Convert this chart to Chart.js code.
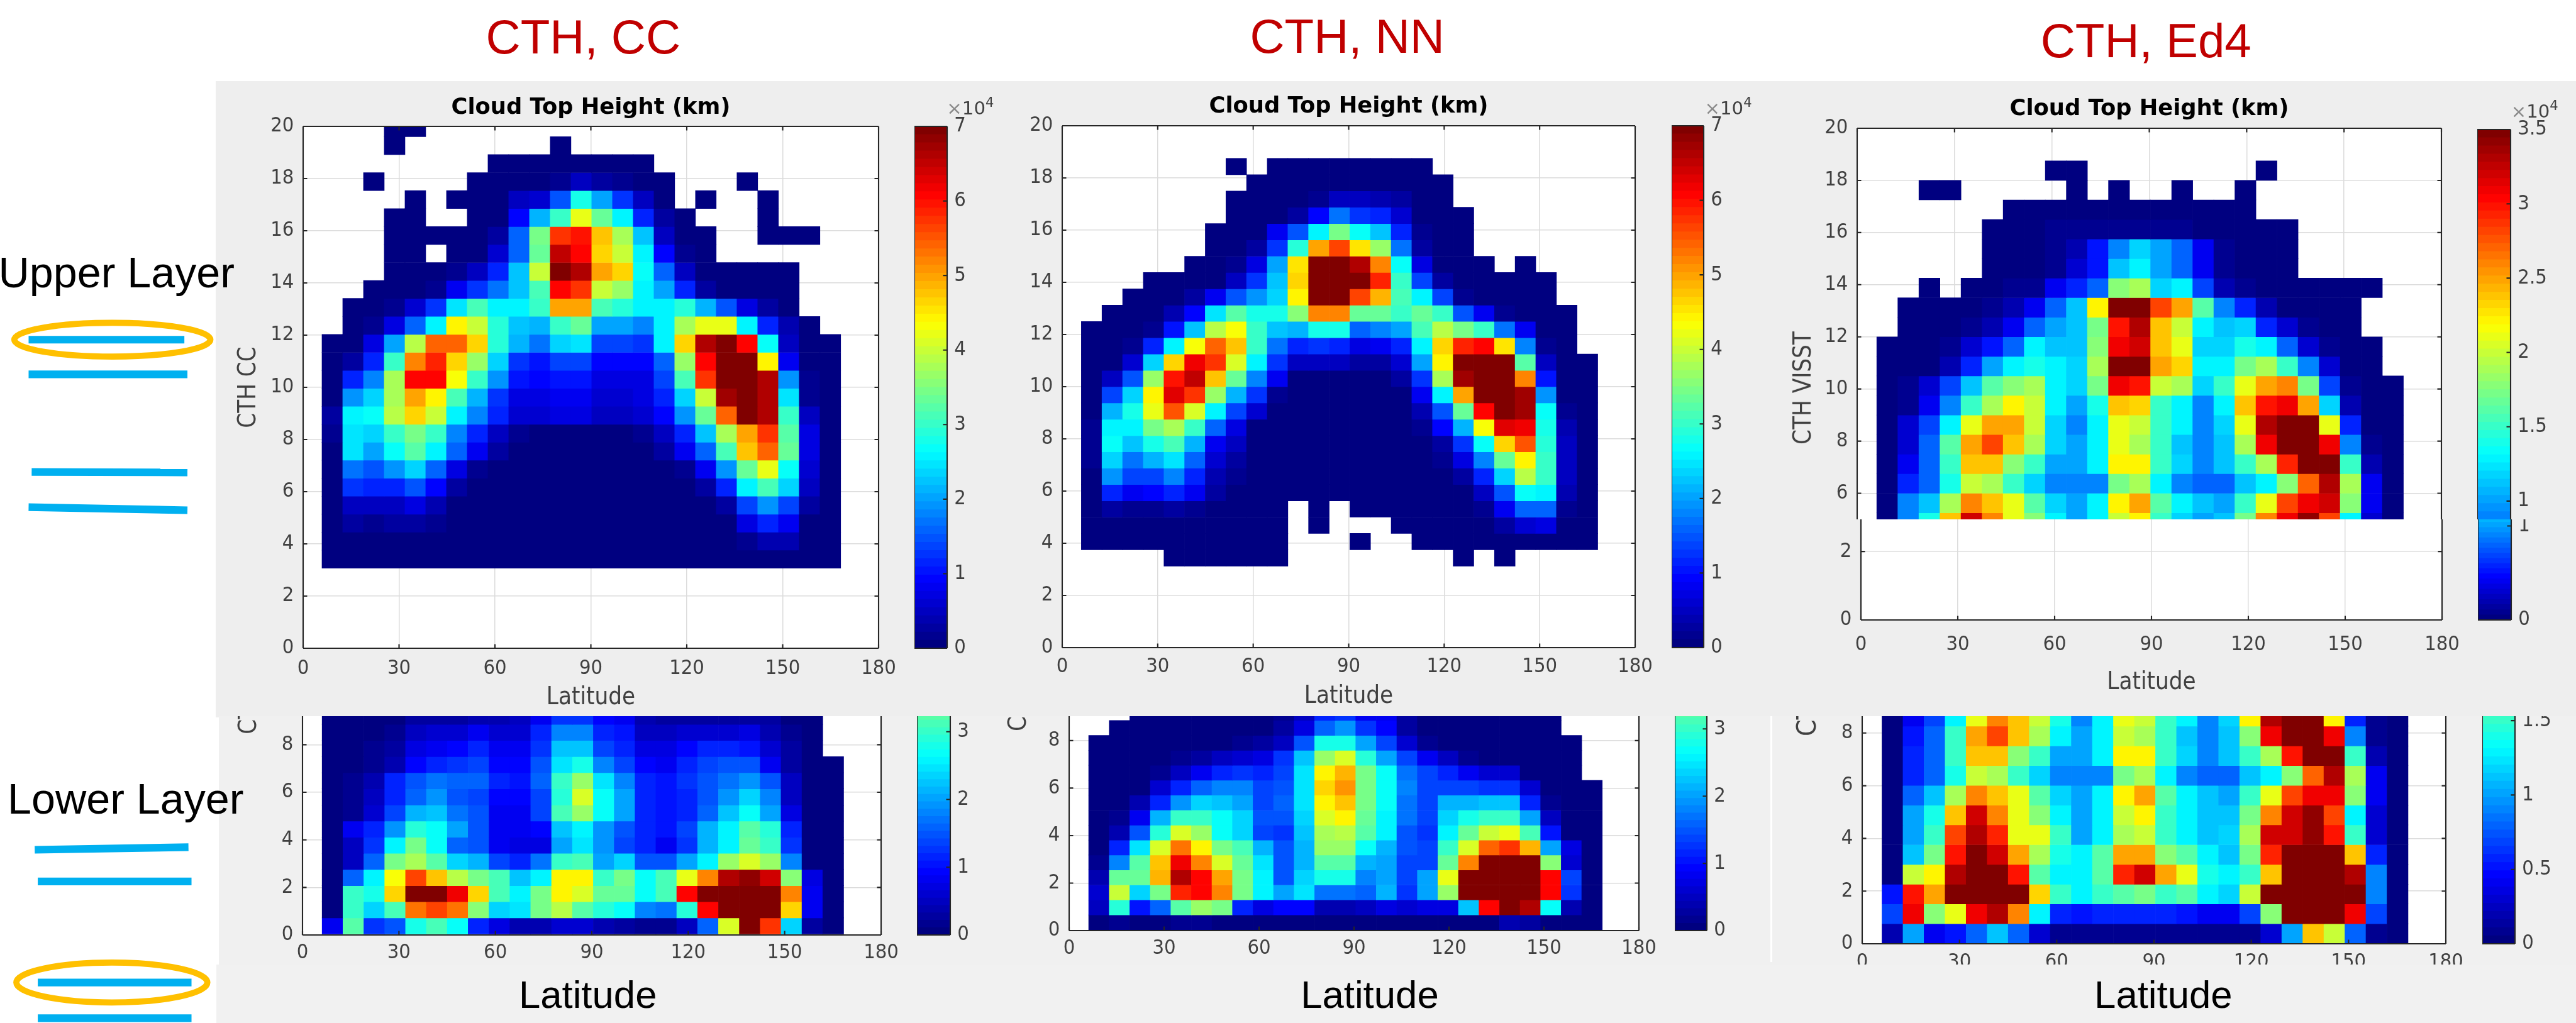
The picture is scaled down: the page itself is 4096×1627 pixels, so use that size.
<!DOCTYPE html>
<html><head><meta charset="utf-8">
<style>
html,body{margin:0;padding:0;background:#fff;overflow:hidden}
#root{position:absolute;left:0;top:0;width:4096px;height:1627px;overflow:hidden;background:#fff}
#root>*{position:absolute}
.t{white-space:nowrap;line-height:1}
</style>
<script src="https://cdn.jsdelivr.net/npm/chart.js@4"></script>
</head><body><div id="root"></div>
<script>
const _ = null;
const latTicks = [0,30,60,90,120,150,180];
const heightTicks = [0,2,4,6,8,10,12,14,16,18,20];
const colorTicksCC = [0,1,2,3,4,5,6,7];
const colorTicksEd4 = [0,0.5,1,1.5,2,2.5,3,3.5];
const colorTicksEd4Upper = [1,1.5,2,2.5,3,3.5];
const colorTicksEd4LowerPiece = [0,1];

// Counts per latitude/height bin, in thousands; rows run from the top of the panel down.
const upperCC = [
[_,_,_,0,0,_,_,_,_,_,_,_,_,_,_,_,_,_,_,_,_,_,_,_,_],
[_,_,_,0,_,_,_,_,_,_,_,0,_,_,_,_,_,_,_,_,_,_,_,_,_],
[_,_,_,_,_,_,_,_,0,0,0,0,0,0,0,0,_,_,_,_,_,_,_,_,_],
[_,_,0,_,_,_,_,0,0,0,0,2,5,3,2,0,0,_,_,_,0,_,_,_,_],
[_,_,_,_,0,_,0,0,0,5,6,15,28,20,13,5,0,_,0,_,_,0,_,_,_],
[_,_,_,0,0,_,_,0,0,9,21,30,42,33,26,11,3,0,_,_,_,0,_,_,_],
[_,_,_,0,0,0,0,0,3,16,35,57,60,48,38,22,5,1,0,_,_,0,0,0,_],
[_,_,_,0,0,_,0,1,6,16,33,65,61,46,40,26,9,2,0,_,_,_,_,_,_],
[_,_,_,0,0,0,2,5,11,22,40,70,66,50,47,27,16,5,1,0,0,0,0,_,_],
[_,_,0,0,0,2,8,13,17,22,31,61,57,40,37,26,20,12,3,1,0,0,0,_,_],
[_,0,0,2,6,13,25,31,26,26,30,50,50,31,29,26,26,29,21,15,7,3,1,_,_],
[_,0,2,7,16,26,44,40,29,22,21,30,33,20,20,18,26,38,42,42,26,12,4,0,_],
[0,1,7,20,39,54,54,47,29,21,17,23,25,14,14,13,26,46,66,70,61,27,5,0,0],
[0,3,12,30,52,58,47,37,23,13,10,14,14,9,9,9,16,37,61,70,70,44,8,0,0],
[0,11,18,38,61,61,43,30,19,10,9,10,10,7,7,7,14,31,57,70,70,66,19,2,0],
[0,19,24,38,50,44,31,21,13,7,7,8,8,6,6,7,11,23,40,67,70,66,25,2,0],
[3,26,27,39,47,40,26,18,12,6,6,7,7,5,5,6,9,19,33,54,70,66,30,5,0],
[2,25,24,30,35,30,18,11,5,2,1,1,1,1,1,2,5,12,22,38,50,57,32,7,1],
[1,25,20,27,32,26,16,8,3,0,0,0,0,0,0,0,3,8,16,31,48,54,33,7,0],
[1,17,15,19,24,16,7,2,1,0,0,0,0,0,0,0,0,2,8,19,33,42,27,6,0],
[0,13,11,12,15,9,3,1,0,0,0,0,0,0,0,0,0,1,3,11,26,31,24,5,0],
[0,5,5,5,7,4,1,0,0,0,0,0,0,0,0,0,0,0,1,3,14,19,14,3,0],
[0,3,2,3,3,2,0,0,0,0,0,0,0,0,0,0,0,0,0,1,7,11,8,1,0],
[0,1,1,1,1,0,0,0,0,0,0,0,0,0,0,0,0,0,0,0,2,4,4,1,0],
[0,0,0,0,0,0,0,0,0,0,0,0,0,0,0,0,0,0,0,0,0,0,0,0,0]];

const upperNN = [
[_,_,_,_,_,_,_,0,_,0,0,0,0,0,0,0,0,_,_,_,_,_,_,_,_],
[_,_,_,_,_,_,_,_,0,0,0,0,0,0,0,0,0,0,_,_,_,_,_,_,_],
[_,_,_,_,_,_,_,0,0,0,0,2,5,5,4,3,0,0,_,_,_,_,_,_,_],
[_,_,_,_,_,_,_,0,0,1,3,9,17,13,11,6,1,0,0,_,_,_,_,_,_],
[_,_,_,_,_,_,0,0,1,8,15,26,35,27,22,11,2,0,0,_,_,_,_,_,_],
[_,_,_,_,_,_,0,0,3,13,29,50,56,45,37,17,3,0,0,_,_,_,_,_,_],
[_,_,_,_,_,0,0,2,7,20,45,70,70,66,52,27,7,1,0,0,_,0,_,_,_],
[_,_,_,0,0,0,1,5,13,22,47,70,70,70,58,30,14,3,0,0,0,0,0,_,_],
[_,_,0,0,0,3,8,15,19,24,44,70,70,56,49,31,26,14,2,1,0,0,0,_,_],
[_,0,0,1,4,9,25,32,28,28,36,52,52,33,33,30,33,30,15,8,2,1,0,0,_],
[0,0,0,2,10,22,39,43,30,22,21,28,28,16,18,20,31,39,35,30,17,8,0,0,_],
[0,0,2,11,26,43,54,48,30,17,11,13,11,7,8,11,26,47,59,61,45,18,2,0,_],
[0,0,6,24,46,62,57,41,26,13,5,5,5,3,3,6,20,44,70,70,70,32,5,0,0],
[0,5,15,37,60,65,48,33,18,8,1,0,0,0,0,3,13,38,67,70,70,52,10,0,0],
[0,14,24,44,63,57,37,21,13,2,0,0,0,0,0,1,8,26,50,70,70,67,19,1,0],
[1,21,28,42,55,41,26,14,6,0,0,0,0,0,0,1,4,15,33,61,70,67,27,2,0],
[2,26,26,35,38,30,16,7,1,0,0,0,0,0,0,0,2,9,21,43,63,62,28,4,0],
[2,27,22,28,31,21,8,5,0,0,0,0,0,0,0,0,1,3,13,27,47,55,29,5,0],
[2,24,17,21,25,16,6,3,0,0,0,0,0,0,0,0,0,2,7,18,33,44,30,5,0],
[1,19,14,14,18,11,4,2,0,0,0,0,0,0,0,0,0,0,3,11,23,39,30,5,0],
[0,12,8,9,11,8,3,1,0,0,0,0,0,0,0,0,0,0,1,5,15,27,26,4,0],
[0,3,2,2,3,2,1,0,0,0,_,0,_,0,0,0,0,0,0,2,8,16,16,2,0],
[0,0,0,0,0,0,0,0,0,0,_,0,_,_,_,0,0,0,0,0,3,6,7,0,0],
[0,0,0,0,0,0,0,0,0,0,_,_,_,0,_,_,0,0,0,0,0,0,0,0,0],
[_,_,_,_,0,0,0,0,0,0,_,_,_,_,_,_,_,_,0,_,0,_,_,_,_]];

const upperEd4 = [
[_,_,_,_,_,_,_,_,0,0,_,_,_,_,_,_,_,_,0,_,_,_,_,_,_],
[_,_,0,0,_,_,_,_,_,0,_,0,_,_,0,_,_,0,_,_,_,_,_,_,_],
[_,_,_,_,_,_,0,0,0,0,0,0,0,0,0,0,0,0,_,_,_,_,_,_,_],
[_,_,_,_,_,0,0,0,1,1,1,1,1,1,1,0,0,0,0,0,_,_,_,_,_],
[_,_,_,_,_,0,0,0,1,2,5,9,12,10,8,4,1,0,0,0,_,_,_,_,_],
[_,_,_,_,_,0,0,0,1,3,5,11,13,10,8,4,1,0,0,0,_,_,_,_,_],
[_,_,0,_,0,0,1,1,4,6,8,18,19,12,13,7,2,1,0,0,0,0,0,0,_],
[_,0,0,0,0,1,2,4,8,11,22,35,35,28,25,16,9,6,2,0,0,0,0,_,_],
[_,0,0,0,1,2,4,8,10,11,17,30,33,24,20,13,11,12,6,3,1,0,0,_,_],
[0,0,0,1,3,5,8,13,11,11,18,31,32,24,21,12,12,14,13,8,3,1,0,0,_],
[0,0,0,2,6,10,13,14,13,12,19,35,35,25,23,13,13,17,19,15,9,3,0,0,_],
[0,1,3,7,11,16,18,19,13,12,17,31,30,20,19,12,15,21,25,26,17,7,1,0,0],
[0,1,4,9,15,19,22,20,13,10,14,24,23,15,13,9,13,24,30,31,25,12,2,0,0],
[0,3,7,13,21,25,25,20,12,9,13,21,20,15,13,9,12,21,33,35,35,21,6,0,0],
[0,3,8,16,25,28,24,19,12,10,13,21,19,15,11,9,11,19,31,35,35,31,9,1,0],
[0,4,8,15,24,24,18,15,10,10,13,22,22,15,12,9,11,15,19,29,35,35,15,2,0],
[0,6,8,14,20,19,15,12,9,9,9,17,19,13,9,8,8,11,13,18,27,33,19,4,0],
[0,9,11,19,26,24,21,16,12,10,13,22,25,16,13,11,10,15,21,28,31,32,18,4,0],
[0,9,14,24,32,26,21,18,13,10,13,20,22,15,12,10,11,17,26,31,34,28,13,3,0]];

const lowerCC = [
[0,0,0,1,3,3,3,4,4,5,8,13,13,9,8,4,3,3,3,3,3,3,1,0,_],
[0,0,1,2,5,6,6,8,6,6,11,18,18,12,10,5,5,6,6,6,7,4,2,0,_],
[0,0,2,3,7,8,9,11,8,8,13,22,22,14,12,7,7,9,12,12,10,6,3,0,_],
[0,1,2,4,9,11,13,14,9,9,15,25,28,18,14,9,8,12,14,15,15,8,3,0,0],
[0,2,4,11,15,17,16,16,12,10,16,30,37,25,18,12,10,13,15,17,19,15,5,0,0],
[0,2,5,11,16,19,15,14,9,9,14,29,41,27,20,12,10,12,15,19,24,18,5,0,0],
[0,2,6,14,21,22,17,15,8,8,14,31,37,27,20,12,10,12,16,22,27,20,7,0,0],
[0,8,11,19,29,27,20,15,8,8,9,22,26,19,15,11,10,14,21,26,32,29,11,0,0],
[0,5,13,26,34,27,16,15,8,7,7,20,25,19,14,11,8,13,21,26,33,30,13,0,0],
[0,5,16,34,38,32,24,21,14,12,17,30,31,20,23,15,15,20,26,37,41,37,18,0,0],
[0,16,26,43,56,48,39,35,31,22,26,44,44,30,35,27,31,42,52,66,68,64,36,7,0],
[0,30,28,47,70,70,62,47,31,26,34,44,41,33,33,27,31,61,70,70,70,70,52,8,0],
[0,30,24,31,53,56,53,36,24,25,35,39,32,29,27,18,17,29,61,70,70,70,47,8,0],
[8,32,13,15,28,31,27,12,7,4,4,6,6,4,3,2,2,5,16,41,70,57,24,3,0]];

const lowerNN = [
[_,_,0,0,0,0,0,1,1,2,5,12,13,8,8,3,1,0,0,0,0,0,0,_,_],
[_,0,0,0,0,0,0,0,1,3,7,16,19,13,9,3,1,0,0,0,0,0,0,_,_],
[0,0,0,0,0,0,1,2,3,5,15,28,28,20,14,6,2,1,0,0,0,0,0,0,_],
[0,0,0,1,2,3,5,6,7,13,22,37,41,29,20,14,8,5,2,1,1,0,0,0,_],
[0,0,0,2,5,8,12,13,12,14,25,44,49,35,27,17,14,12,8,6,6,1,0,0,_],
[0,0,1,6,12,16,18,18,14,15,25,47,51,35,27,18,14,14,14,13,13,6,1,0,0],
[0,1,4,12,19,23,22,20,14,16,25,44,48,34,27,17,14,21,21,22,22,12,2,0,0],
[0,2,8,21,30,30,27,24,15,15,24,41,44,33,26,17,14,24,28,30,30,20,5,0,0],
[0,4,15,29,41,37,27,23,14,13,22,38,39,32,26,15,13,26,33,40,42,31,10,1,0],
[0,12,25,41,53,44,35,31,21,15,21,37,37,27,21,15,14,30,41,54,57,49,20,7,0],
[2,18,32,48,62,52,41,33,25,15,21,32,32,21,20,14,14,33,52,70,70,70,36,6,0],
[4,33,33,49,66,61,50,35,26,15,23,28,28,18,20,14,20,42,70,70,70,70,61,14,1],
[6,40,23,35,58,61,52,35,26,20,25,17,17,16,21,13,20,37,70,70,70,70,61,13,1],
[5,29,10,16,32,37,35,12,7,9,9,4,4,5,7,6,7,7,22,61,70,66,27,4,1],
[0,2,0,0,2,2,1,0,0,0,0,0,0,0,0,0,0,0,0,1,4,3,0,0,0]];

const lowerEd4 = [
[0,4,7,13,21,26,24,20,14,9,13,21,20,15,13,9,12,22,33,35,35,22,6,1,0],
[0,5,8,15,25,28,24,19,13,10,13,20,19,15,11,9,11,18,31,35,35,31,9,1,0],
[0,6,8,15,24,24,18,15,10,10,13,22,22,15,12,9,11,15,19,30,35,35,15,2,0],
[0,6,8,14,20,19,15,12,9,9,9,17,19,13,9,8,8,11,13,18,27,33,19,4,0],
[0,8,11,19,26,24,21,16,12,10,13,22,25,16,13,11,10,15,21,28,31,31,18,4,0],
[0,10,14,24,32,26,21,18,13,10,13,20,22,15,13,11,11,17,26,32,34,28,13,3,0],
[0,10,15,28,33,29,21,21,15,10,13,19,20,15,13,11,12,19,32,32,34,30,15,3,0],
[0,11,17,30,35,32,25,19,14,13,16,25,25,18,16,13,11,17,29,35,35,35,24,6,0],
[0,20,22,33,35,35,30,16,13,13,16,29,32,25,21,14,13,15,24,35,35,35,33,9,0],
[5,30,25,35,35,35,35,23,15,13,15,16,17,15,16,13,12,20,35,35,35,35,35,9,0],
[7,31,18,21,31,33,26,13,6,5,6,6,6,6,5,4,4,7,18,35,35,35,31,7,0],
[2,10,4,5,8,11,8,3,1,1,1,1,1,1,1,1,1,1,3,10,24,20,8,1,0]];

const S = 4096/5044;
const root = document.getElementById('root');
const FONT = '"DejaVu Sans"';
const COND = '"DejaVu Sans Condensed","DejaVu Sans"';
const TICK = 40*S, AXIS = 47*S, HEAD = 43.5*S;
const TICKCOL = '#404040';
Chart.defaults.animation = false;
Chart.defaults.responsive = false;
Chart.defaults.devicePixelRatio = 1;

function rect(x0,y0,x1,y1,c){const d=document.createElement('div');
  d.style.cssText=`left:${x0*S}px;top:${y0*S}px;width:${(x1-x0)*S}px;height:${(y1-y0)*S}px;background:${c}`;root.appendChild(d);return d;}
function text(str,cx,cy,size,color,family,extra){const d=document.createElement('div');d.className='t';d.innerHTML=str;
  d.style.cssText=`left:${cx*S}px;top:${cy*S}px;transform:translate(-50%,-50%);font:${size*S}px ${family};color:${color};${extra||''}`;root.appendChild(d);return d;}

// backgrounds
rect(423,159,5044,1405,'#eeeeee');
rect(429,1403,5044,1889,'#f0f0f0');
rect(424,1889,5044,2003,'#f1f1f1');
rect(3467,1403,3470,1884,'#ffffff');

function clamp01(v){return v<0?0:v>1?1:v;}
function jet(f){f=Math.floor(clamp01(f)*63.999)/63;
  const r=clamp01(Math.min(4*f-1.5,-4*f+4.5)),g=clamp01(Math.min(4*f-0.5,-4*f+3.5)),b=clamp01(Math.min(4*f+0.5,-4*f+2.5));
  return `rgb(${Math.round(r*255)},${Math.round(g*255)},${Math.round(b*255)})`;}

function frame(sides){return {id:'frame',
  beforeDraw(c){const a=c.chartArea,x=c.ctx;if(sides.white===false)return;x.save();x.fillStyle='#fff';x.fillRect(a.left,a.top,a.right-a.left,a.bottom-a.top);x.restore();},
  afterDatasetsDraw(c){const a=c.chartArea,x=c.ctx,col='#262626';x.save();x.strokeStyle=col;x.lineWidth=Math.max(1.5,2.6*S);x.beginPath();
    if(sides.top){x.moveTo(a.left,a.top);x.lineTo(a.right,a.top);}
    if(sides.bottom){x.moveTo(a.left,a.bottom);x.lineTo(a.right,a.bottom);}
    x.moveTo(a.left,a.top);x.lineTo(a.left,a.bottom);x.moveTo(a.right,a.top);x.lineTo(a.right,a.bottom);x.stroke();
    const t=8*S;x.beginPath();
    if(c.scales.y){c.scales.y.ticks.forEach(k=>{const p=c.scales.y.getPixelForValue(k.value);
      if(sides.noLeftTick!==true){x.moveTo(a.left,p);x.lineTo(a.left+t,p);} x.moveTo(a.right,p);x.lineTo(a.right-t,p);});}
    if(c.scales.x&&c.scales.x.type==='linear'){c.scales.x.ticks.forEach(k=>{const p=c.scales.x.getPixelForValue(k.value);
      if(sides.top){x.moveTo(p,a.top);x.lineTo(p,a.top+t);} if(sides.bottom){x.moveTo(p,a.bottom);x.lineTo(p,a.bottom-t);}});}
    x.stroke();x.restore();}};}

function addCanvas(left,top,w,h){const c=document.createElement('canvas');c.width=w;c.height=h;
  c.style.cssText=`left:${left}px;top:${top}px;width:${w}px;height:${h}px`;root.appendChild(c);return c;}

function axisFit(size,dim){return s=>{s[dim]=size;s.paddingTop=0;s.paddingBottom=0;s.paddingLeft=0;s.paddingRight=0;};}

function heat(o){
  const pL=Math.round(o.L*S),pR=Math.round(o.R*S),pT=Math.round(o.T*S),pB=Math.round(o.B*S);
  const lhH=HEAD*1.2,lhA=AXIS*1.2;
  let mT=o.mT||0,titleBottom=0;
  if(o.title){mT=Math.ceil((o.T-o.titleY)*S+lhH/2+2);titleBottom=mT-2-lhH;}
  const mL=o.yLabel?Math.ceil((o.L-o.yLabelX)*S+lhA/2+2):Math.ceil(75);
  const cBottom=Math.round(o.edgeB*S),mB=cBottom-pB,mR=60;
  const cv=addCanvas(pL-mL,pT-mT,pR-pL+mL+mR,pB-pT+mT+mB);
  const datasets=[];
  const n=o.rows.length;
  o.rows.forEach((row,i)=>{const k=n-1-i,data=[],colors=[];
    row.forEach((v,c)=>{if(v===null)return;data.push({x:o.x0+o.dx*(c+0.5),y:[o.y0+o.dy*k,o.y0+o.dy*(k+1)]});colors.push(jet(v/o.vmax));});
    if(data.length)datasets.push({data,backgroundColor:colors,borderWidth:0,grouped:false,barPercentage:1,categoryPercentage:1,borderSkipped:false});});
  const yTicks=heightTicks.filter(v=>v>=o.yMin&&v<=o.yMax);
  new Chart(cv,{type:'bar',data:{datasets},plugins:[frame({top:o.top!==false,bottom:o.bottom!==false})],options:{
    layout:{padding:{top:o.title?2:mT,right:mR,left:0,bottom:0}},
    plugins:{legend:{display:false},tooltip:{enabled:false},
      title:o.title?{display:true,text:o.title,color:'#000',fullSize:false,padding:{top:0,bottom:titleBottom},font:{family:FONT,size:HEAD,weight:'bold'}}:{display:false}},
    scales:{
      x:{type:'linear',min:0,max:180,offset:false,bounds:'data',grid:{offset:false,color:'#dcdcdc',lineWidth:1.5,drawTicks:false},border:{display:false},
        afterBuildTicks:s=>{s.ticks=latTicks.map(value=>({value}));},afterFit:axisFit(mB,'height'),
        ticks:{display:o.xLabels!==false,autoSkip:false,maxRotation:0,color:TICKCOL,padding:o.xLabels===false?0:(o.xTickY-o.B)*S-TICK*0.6,font:{family:COND,size:TICK},callback:v=>String(v)},
        title:o.xTitle?{display:true,text:o.xTitle,color:TICKCOL,padding:{top:0,bottom:cBottom-o.xTitleY*S-lhA/2},font:{family:COND,size:AXIS}}:{display:false}},
      y:{type:'linear',min:o.yMin,max:o.yMax,bounds:'data',beginAtZero:false,grid:{color:'#dcdcdc',lineWidth:1.5,drawTicks:false},border:{display:false},
        afterBuildTicks:s=>{s.ticks=yTicks.map(value=>({value}));},afterFit:axisFit(mL,'width'),
        ticks:{autoSkip:false,color:TICKCOL,padding:18*S,font:{family:COND,size:TICK},callback:v=>String(v)},
        title:o.yLabel?{display:true,text:o.yLabel,color:TICKCOL,padding:{top:mL-(o.L-o.yLabelX)*S-lhA/2,bottom:0},font:{family:COND,size:AXIS}}:{display:false}}
    }}});
}

function colorbar(o){
  const pL=Math.round(o.L*S),pR=Math.round(o.R*S),pT=Math.round(o.T*S),pB=Math.round(o.B*S);
  const mT=o.mT===undefined?24:o.mT,mB=o.mB===undefined?24:o.mB,mR=90;
  const cv=addCanvas(pL,pT-mT,pR-pL+mR,pB-pT+mT+mB);
  const datasets=[];
  for(let i=0;i<64;i++){datasets.push({data:[[o.vmax*i/64,o.vmax*(i+1)/64]],backgroundColor:jet((i+0.5)/64),borderWidth:0,grouped:false,barPercentage:1,categoryPercentage:1,borderSkipped:false,inflateAmount:0.4});}
  new Chart(cv,{type:'bar',data:{labels:[''],datasets},plugins:[frame({top:o.top!==false,bottom:o.bottom!==false,noLeftTick:true})],options:{
    layout:{padding:{top:mT,bottom:mB,left:0,right:0}},
    plugins:{legend:{display:false},tooltip:{enabled:false}},
    scales:{x:{type:'category',display:false},
      y:{type:'linear',position:'right',min:o.yMin,max:o.yMax,bounds:'data',beginAtZero:false,grid:{display:false,drawTicks:false},border:{display:false},
        afterBuildTicks:s=>{s.ticks=o.ticks.filter(v=>v>=o.yMin&&v<=o.yMax).map(value=>({value}));},afterFit:axisFit(mR,'width'),
        ticks:{autoSkip:false,color:TICKCOL,padding:14*S,font:{family:COND,size:TICK},callback:v=>String(v)}}}}});
}

const DX=6.49;
heat({rows:upperCC,x0:5.9,dx:DX,y0:3.07,dy:0.689,vmax:70,L:594,R:1720,T:247,B:1270,yMin:0,yMax:20,title:'Cloud Top Height (km)',titleY:212,xTickY:1310,xTitle:'Latitude',xTitleY:1367,yLabel:'CTH CC',yLabelX:488,edgeB:1403});
colorbar({vmax:7,yMin:0,yMax:7,ticks:colorTicksCC,L:1790,R:1855,T:247,B:1270});

heat({rows:upperNN,x0:6,dx:DX,y0:3.125,dy:0.625,vmax:70,L:2080,R:3202,T:246,B:1268,yMin:0,yMax:20,title:'Cloud Top Height (km)',titleY:210,xTickY:1306,xTitle:'Latitude',xTitleY:1364,edgeB:1403});
colorbar({vmax:7,yMin:0,yMax:7,ticks:colorTicksCC,L:3273,R:3336,T:246,B:1268});

heat({rows:upperEd4,x0:6.04,dx:DX,y0:4.5,dy:0.75,vmax:35,L:3637,R:4780,T:251,B:1017,yMin:5,yMax:20,title:'Cloud Top Height (km)',titleY:215,xLabels:false,bottom:false,edgeB:1020});
heat({rows:[],x0:0,dx:DX,y0:0,dy:1,vmax:35,L:3644,R:4782,T:1017,B:1214,yMin:0,yMax:2.94,xTickY:1263,xTitle:'Latitude',xTitleY:1338,top:false,edgeB:1395,mT:0});
colorbar({vmax:3.5,yMin:0.877,yMax:3.5,ticks:colorTicksEd4Upper,L:4851,R:4916,T:254,B:1017,bottom:false,mB:0});
colorbar({vmax:3.5,yMin:0,yMax:1.07,ticks:colorTicksEd4LowerPiece,L:4852,R:4917,T:1017,B:1214,top:false,mT:0});
text('CTH VISST',3529,760,47,TICKCOL,COND,'').style.transform='translate(-50%,-50%) rotate(-90deg)';

heat({rows:lowerCC,x0:6.1,dx:DX,y0:0.04,dy:0.678,vmax:70,L:592,R:1725,T:1403,B:1831,yMin:0,yMax:9.2,xTickY:1866,top:false,edgeB:1889,mT:0});
colorbar({vmax:7,yMin:0,yMax:3.23,ticks:colorTicksCC,L:1796,R:1861,T:1403,B:1831,top:false,mT:0});

heat({rows:lowerNN,x0:6.17,dx:DX,y0:0.03,dy:0.63,vmax:70,L:2093,R:3209,T:1403,B:1823,yMin:0,yMax:9.03,xTickY:1858,top:false,edgeB:1889,mT:0});
colorbar({vmax:7,yMin:0,yMax:3.19,ticks:colorTicksCC,L:3279,R:3342,T:1403,B:1823,top:false,mT:0});

heat({rows:lowerEd4,x0:6.1,dx:DX,y0:0.01,dy:0.75,vmax:35,L:3646,R:4789,T:1403,B:1848,yMin:0,yMax:8.64,xTickY:1885,top:false,edgeB:1889,mT:0});
colorbar({vmax:3.5,yMin:0,yMax:1.53,ticks:colorTicksEd4,L:4860,R:4925,T:1403,B:1848,top:false,mT:0});

// clipped y-axis labels of the lower panels
function clipLabel(str,x,bottom,size){const w=document.createElement('div');
  const h=bottom-1403;w.style.cssText=`left:${(x-40)*S}px;top:${1403*S}px;width:${80*S}px;height:${h*S}px;overflow:hidden`;
  const t=document.createElement('div');t.className='t';t.textContent=str;
  t.style.cssText=`position:absolute;left:50%;bottom:0;transform:translateX(-50%) rotate(180deg);writing-mode:vertical-rl;font:${size*S}px ${COND};color:${TICKCOL}`;
  w.appendChild(t);root.appendChild(w);}
clipLabel('CTH CC',485,1438,47);
clipLabel('CTH NN',1992,1432,47);
clipLabel('CTH VISST',3537,1442,52);

// colorbar exponents
const EXP='<span style="color:#8a8a8a">×</span>10<sup style="font-size:.72em;line-height:0;vertical-align:.55em">4</sup>';
text(EXP,1900,212,36,TICKCOL,FONT);
text(EXP,3384,212,36,TICKCOL,FONT);
text(EXP,4963,218,36,TICKCOL,FONT);

// panel headers
const HELV='"Liberation Sans"';
text('CTH, CC',1142,72,94,'#c00000',HELV);
text('CTH, NN',2638,70,94,'#c00000',HELV);
text('CTH, Ed4',4202,79,94,'#c00000',HELV);
const up=text('Upper Layer',0,533,84,'#000',HELV);up.style.transform='translate(0,-50%)';up.style.left=(-3*S)+'px';
text('Lower Layer',246,1564,84,'#000',HELV);
text('Latitude',1151,1947,76,'#000',HELV);
text('Latitude',2682,1947,76,'#000',HELV);
text('Latitude',4236,1947,76,'#000',HELV);

// layer sketches
const blue='#00b0f0',gold='#ffc000';
const lines=[[56,665,361,665],[56,733,367,733],[62,924,367,925],[56,993,367,999],[68,1664,369,1659],[74,1726,375,1726],[74,1924,375,1924],[74,1994,375,1994]];
const svgNS='http://www.w3.org/2000/svg';
const svg=document.createElementNS(svgNS,'svg');svg.setAttribute('width',4096);svg.setAttribute('height',1627);svg.setAttribute('viewBox','0 0 5044 2003');svg.style.cssText='left:0;top:0;pointer-events:none';
lines.forEach(l=>{const e=document.createElementNS(svgNS,'line');e.setAttribute('x1',l[0]);e.setAttribute('y1',l[1]);e.setAttribute('x2',l[2]);e.setAttribute('y2',l[3]);e.setAttribute('stroke',blue);e.setAttribute('stroke-width',15);svg.appendChild(e);});
[[220,665,192,33],[219,1924,187,39]].forEach(a=>{const e=document.createElementNS(svgNS,'ellipse');e.setAttribute('cx',a[0]);e.setAttribute('cy',a[1]);e.setAttribute('rx',a[2]);e.setAttribute('ry',a[3]);e.setAttribute('fill','none');e.setAttribute('stroke',gold);e.setAttribute('stroke-width',12);svg.appendChild(e);});
root.appendChild(svg);
</script>
</body></html>
